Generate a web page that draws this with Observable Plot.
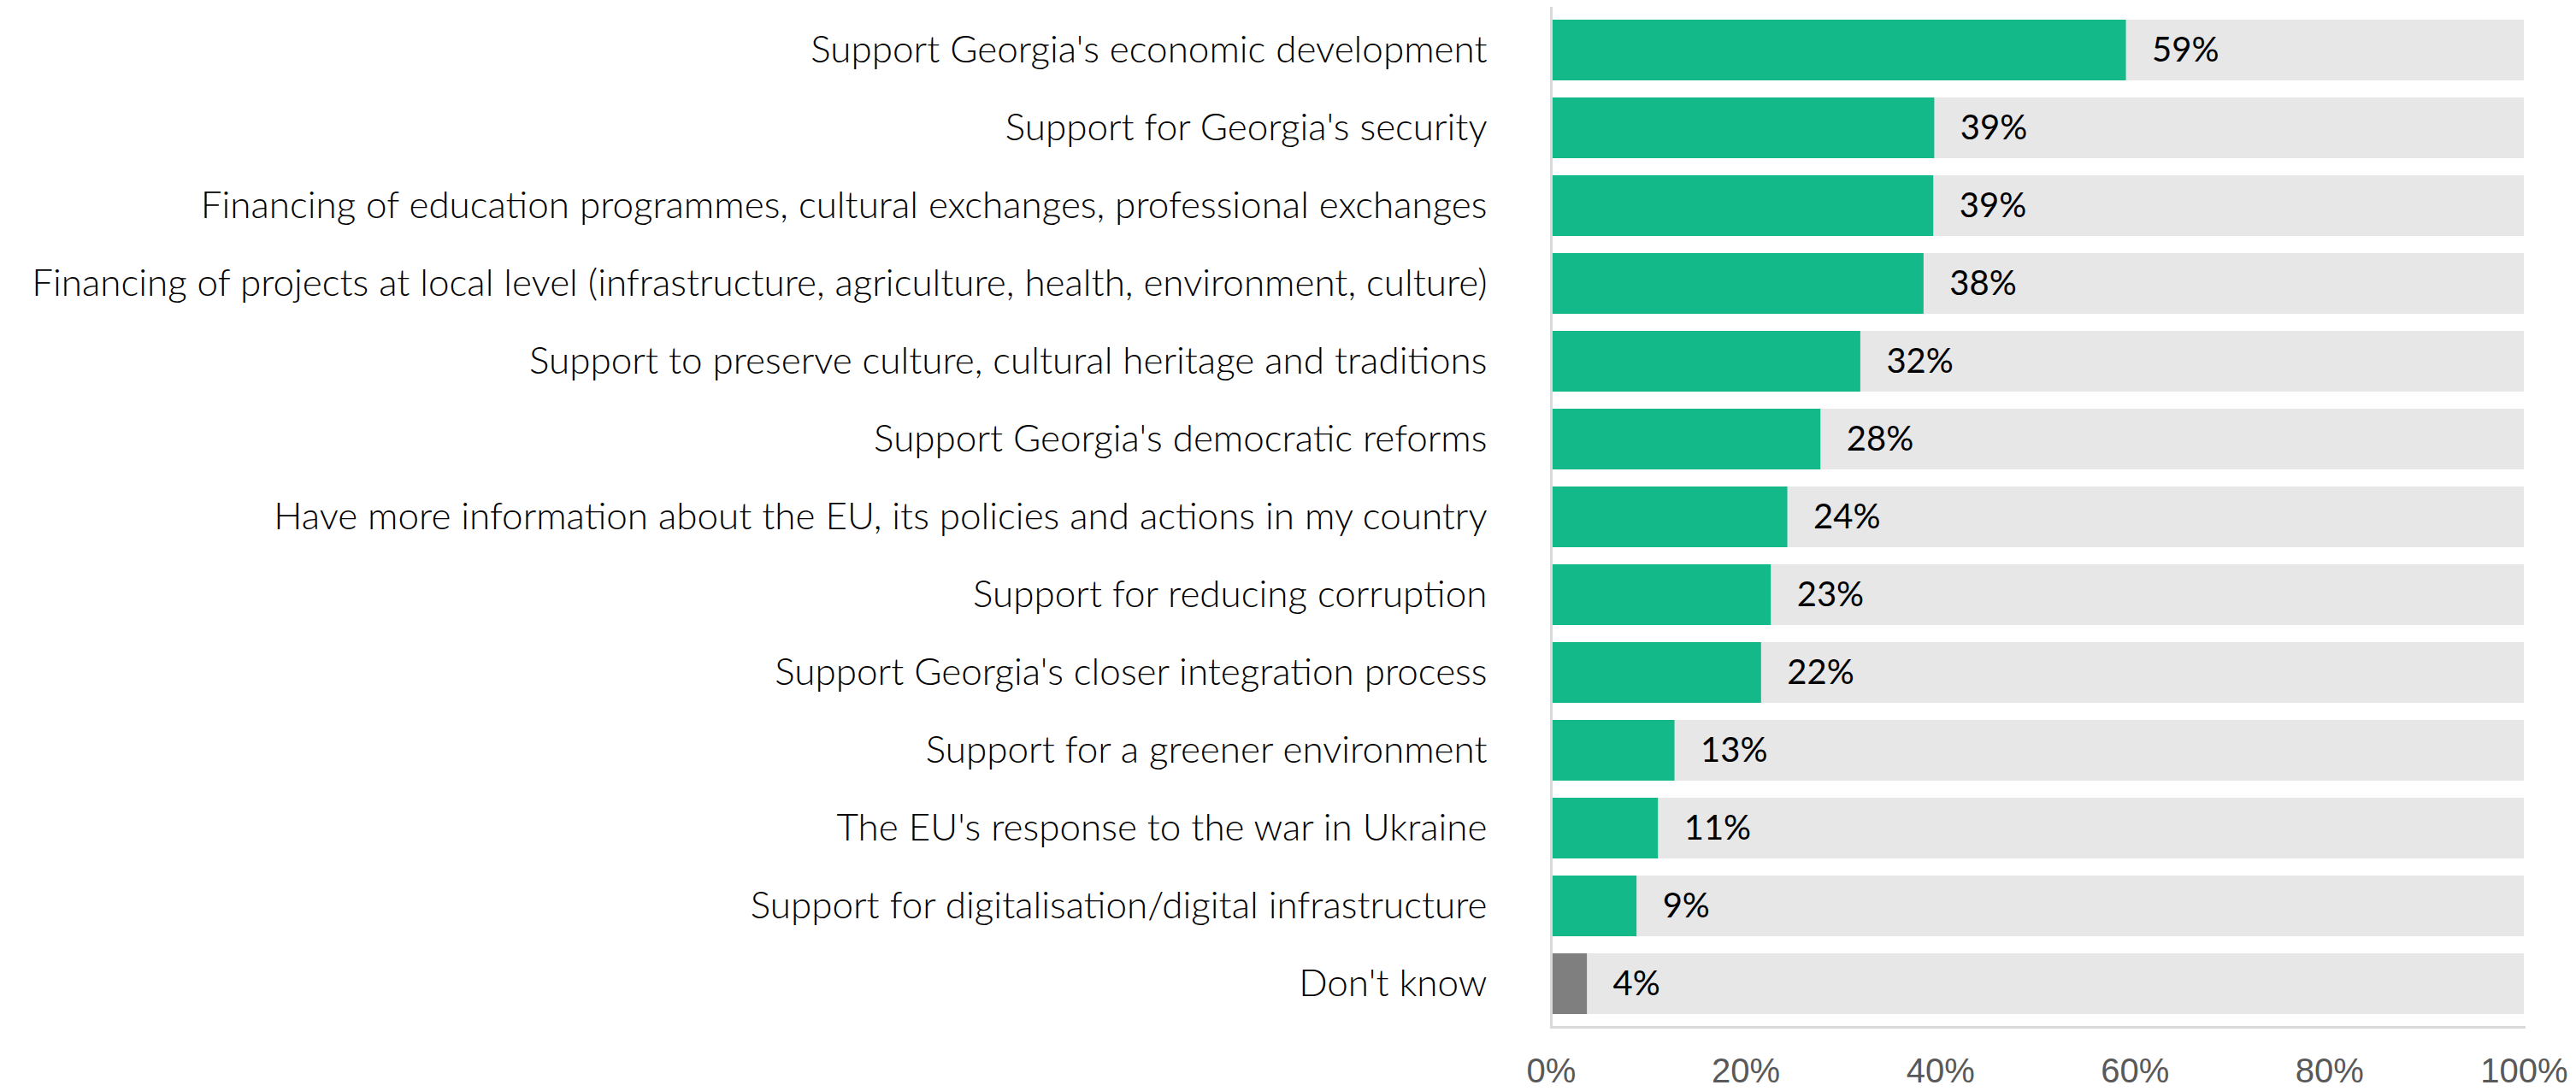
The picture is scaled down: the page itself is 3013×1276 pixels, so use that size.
<!DOCTYPE html>
<html><head><meta charset="utf-8">
<script src="https://cdn.jsdelivr.net/npm/d3@7"></script>
<script src="https://cdn.jsdelivr.net/npm/@observablehq/plot@0.6"></script>
<style>
body{margin:0;background:#fff;}
</style></head><body><div id="chart"></div>
<script>
const categories = [
  "Support Georgia's economic development",
  "Support for Georgia's security",
  "Financing of education programmes, cultural exchanges, professional exchanges",
  "Financing of projects at local level (infrastructure, agriculture, health, environment, culture)",
  "Support to preserve culture, cultural heritage and traditions",
  "Support Georgia's democratic reforms",
  "Have more information about the EU, its policies and actions in my country",
  "Support for reducing corruption",
  "Support Georgia's closer integration process",
  "Support for a greener environment",
  "The EU's response to the war in Ukraine",
  "Support for digitalisation/digital infrastructure",
  "Don't know"
];
const values = [59.1, 39.4, 39.3, 38.3, 31.8, 27.7, 24.3, 22.6, 21.6, 12.7, 11.0, 8.8, 3.7];
const valueLabels = ["59%", "39%", "39%", "38%", "32%", "28%", "24%", "23%", "22%", "13%", "11%", "9%", "4%"];
const xTicks = [0, 20, 40, 60, 80, 100];

const data = categories.map((c, i) => ({category: c, value: values[i], label: valueLabels[i]}));

const chart = Plot.plot({
  width: 3013,
  height: 1276,
  marginLeft: 1814,
  marginRight: 61,
  marginTop: 8,
  marginBottom: 75,
  style: {fontFamily: "Lato, sans-serif", background: "#fff"},
  x: {domain: [0, 100]},
  y: {domain: categories, paddingInner: 0.22, paddingOuter: 0.11},
  marks: [
    Plot.barX(data, {y: "category", x1: 0, x2: 100, fill: "#E7E7E7"}),
    Plot.barX(data, {y: "category", x1: 0, x2: "value", fill: d => d.category === "Don't know" ? "#7F7F7F" : "#14B98A"}),
    Plot.text(data, {y: "category", x: "value", text: "label", textAnchor: "start", dx: 30, fontSize: 40, fill: "#000"}),
    Plot.ruleX([0], {stroke: "#D9D9D9", strokeWidth: 3}),
    Plot.frame({anchor: "bottom", stroke: "#D9D9D9", strokeWidth: 3}),
    Plot.axisX({ticks: xTicks, tickFormat: d => d + "%", tickSize: 0, tickPadding: 36, fontSize: 40, fill: "#595959", fontFamily: "Liberation Sans, Arial, sans-serif", label: null}),
    Plot.axisY({tickSize: 0, tickPadding: 75, fontSize: 44, fontWeight: 300, fill: "#000", label: null})
  ]
});
document.getElementById("chart").appendChild(chart);
</script>
</body></html>
